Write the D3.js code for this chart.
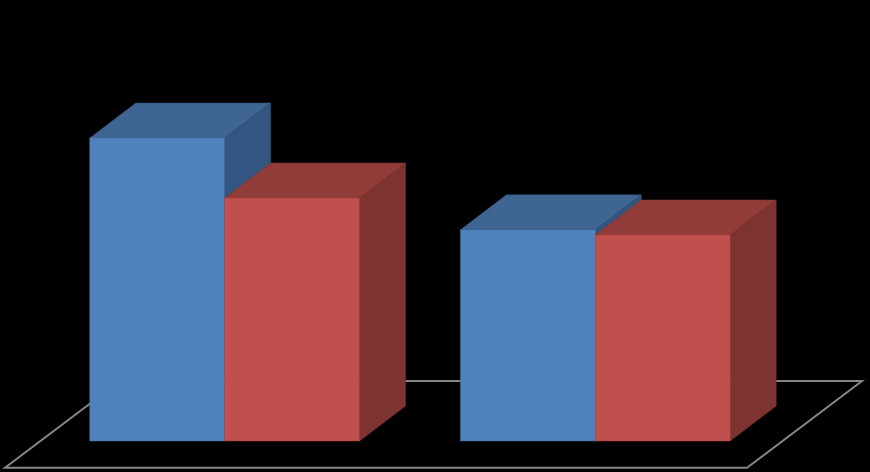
<!DOCTYPE html>
<html>
<head>
<meta charset="utf-8">
<script src="https://cdn.jsdelivr.net/npm/d3@7"></script>
<style>html,body{margin:0;padding:0;background:#000;overflow:hidden}svg{display:block}</style>
</head>
<body>
<script>
const categories = ["Category 1", "Category 2"];
const seriesNames = ["Series 1", "Series 2"];
const series1 = [100, 69.7];
const series2 = [80.2, 68];
const frontColors = ["#4F81BD", "#C0504D"];
const topColors = ["#3F6593", "#923C3A"];
const sideColors = ["#325581", "#7D3431"];
const edgeColors = ["#44719F", "#A5433F"];

const width = 870, height = 472;
const baseY = 441, depthX = 46, depthY = 35;

const svg = d3.select("body").append("svg").attr("width", width).attr("height", height);
svg.append("rect").attr("width", width).attr("height", height).attr("fill", "#000");

const x0 = d3.scaleBand().domain(categories).range([89.8, 730.2]).paddingInner(0.2722);
const x1 = d3.scaleBand().domain(seriesNames).range([0, x0.bandwidth()]);
const y = d3.scaleLinear().domain([0, 100]).range([baseY, 138]);

const floor = [[5, 467.7], [747, 467.7], [862, 381], [120, 381]];
svg.append("path")
  .attr("d", d3.line()(floor) + "Z")
  .attr("fill", "none").attr("stroke", "#868686").attr("stroke-width", 2);

const rows = [];
categories.forEach((c, i) => {
  rows.push({c, s: seriesNames[0], v: series1[i], k: 0});
  rows.push({c, s: seriesNames[1], v: series2[i], k: 1});
});

const bars = svg.selectAll("g.bar").data(rows).join("g").attr("class", "bar");
const poly = pts => d3.line()(pts) + "Z";
const stroke = 0.5;

bars.append("path") // side
  .attr("d", d => {
    const r = x0(d.c) + x1(d.s) + x1.bandwidth(), t = y(d.v);
    return poly([[r, t], [r + depthX, t - depthY], [r + depthX, baseY - depthY], [r, baseY]]);
  })
  .attr("fill", d => sideColors[d.k]).attr("stroke", d => sideColors[d.k]).attr("stroke-width", stroke);

bars.append("path") // top
  .attr("d", d => {
    const l = x0(d.c) + x1(d.s), r = l + x1.bandwidth(), t = y(d.v);
    return poly([[l, t], [r, t], [r + depthX, t - depthY], [l + depthX, t - depthY]]);
  })
  .attr("fill", d => topColors[d.k]).attr("stroke", d => sideColors[d.k]).attr("stroke-width", stroke);

bars.append("rect") // front
  .attr("x", d => x0(d.c) + x1(d.s))
  .attr("y", d => y(d.v))
  .attr("width", x1.bandwidth())
  .attr("height", d => baseY - y(d.v))
  .attr("fill", d => frontColors[d.k]).attr("stroke", d => edgeColors[d.k]).attr("stroke-width", stroke);
</script>
</body>
</html>
